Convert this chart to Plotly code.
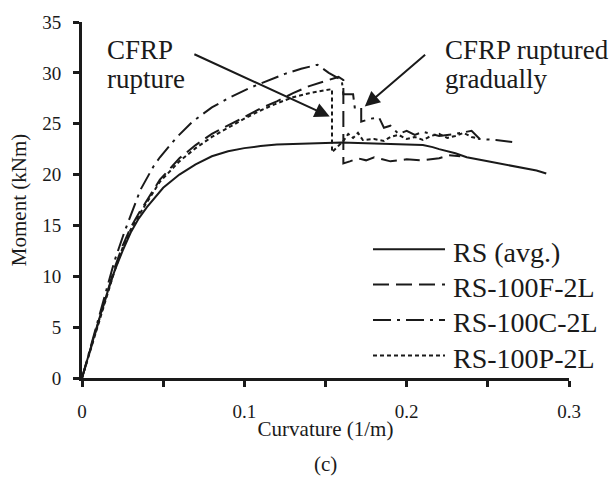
import plotly.graph_objects as go

# Moment-curvature response of the RS beams (curvature in 1/m, moment in kNm)
rs_curv = [0, 0.005, 0.01, 0.015, 0.02, 0.025, 0.03, 0.035, 0.04, 0.05, 0.06, 0.07,
           0.08, 0.09, 0.1, 0.11, 0.12, 0.13, 0.14, 0.15, 0.16, 0.17, 0.18, 0.19,
           0.2, 0.21, 0.216, 0.22, 0.23, 0.237, 0.25, 0.257, 0.27, 0.28, 0.286]
rs_moment = [0, 2.8, 5.5, 8.1, 10.5, 12.5, 14.3, 15.7, 16.8, 18.7, 20.0, 21.0,
             21.8, 22.3, 22.6, 22.8, 22.95, 23.0, 23.05, 23.1, 23.15, 23.1, 23.05, 23.0,
             23.0, 22.9, 22.7, 22.5, 22.1, 21.7, 21.3, 21.1, 20.7, 20.4, 20.1]

f_curv = [0, 0.01, 0.02, 0.025, 0.03, 0.035, 0.04, 0.048, 0.06, 0.07, 0.08, 0.093,
          0.1, 0.11, 0.12, 0.13, 0.14, 0.15, 0.158, 0.161, 0.161, 0.165, 0.17, 0.175,
          0.18, 0.185, 0.19, 0.2, 0.21, 0.22, 0.226, 0.233]
f_moment = [0, 5.5, 10.8, 13.0, 14.8, 16.2, 17.5, 19.5, 21.6, 22.9, 24.0, 25.1,
            25.7, 26.5, 27.2, 28.0, 28.7, 29.2, 29.6, 29.3, 21.1, 21.3, 21.6, 21.4,
            21.7, 21.5, 21.3, 21.5, 21.4, 21.6, 21.9, 21.8]

c_curv = [0, 0.01, 0.02, 0.026, 0.03, 0.036, 0.044, 0.048, 0.058, 0.068, 0.08, 0.09,
          0.103, 0.115, 0.125, 0.135, 0.145, 0.152, 0.16, 0.161, 0.167, 0.168, 0.172,
          0.172, 0.178, 0.183, 0.186, 0.19, 0.195, 0.2, 0.205, 0.21, 0.22, 0.23,
          0.24, 0.245, 0.255, 0.265]
c_moment = [0, 5.8, 11.5, 14.3, 16.0, 18.5, 20.8, 21.7, 23.6, 25.2, 26.6, 27.5,
            28.5, 29.3, 29.9, 30.4, 30.8, 30.0, 29.3, 27.9, 27.9, 26.6, 26.6,
            25.2, 25.5, 25.6, 24.6, 24.8, 24.0, 24.3, 23.9, 24.2, 23.8, 24.0,
            24.3, 23.5, 23.4, 23.2]

p_curv = [0, 0.01, 0.02, 0.025, 0.03, 0.035, 0.04, 0.048, 0.06, 0.07, 0.08, 0.093,
          0.1, 0.11, 0.12, 0.13, 0.14, 0.15, 0.154, 0.154, 0.161, 0.164, 0.167, 0.17,
          0.173, 0.18, 0.186, 0.19, 0.195, 0.2, 0.205, 0.21, 0.215, 0.22, 0.225,
          0.23, 0.235, 0.24, 0.245]
p_moment = [0, 5.3, 10.5, 12.8, 14.6, 16.0, 17.3, 19.3, 21.3, 22.6, 23.7, 24.9,
            25.5, 26.3, 27.0, 27.6, 28.0, 28.3, 28.4, 22.2, 23.3, 24.0, 23.6, 24.1,
            23.4, 23.5, 23.3, 23.7, 23.9, 23.5, 23.7, 23.4, 23.8, 24.0, 23.6,
            23.8, 24.1, 23.7, 23.5]

series_names = ["RS (avg.)", "RS-100F-2L", "RS-100C-2L", "RS-100P-2L"]
series_dash = ["solid", "16px,7px", "18px,6px,3px,6px", "4px,3px"]

x_tickvals = [0, 0.05, 0.1, 0.15, 0.2, 0.25, 0.3]
x_ticktext = ["0", "", "0.1", "", "0.2", "", "0.3"]
y_tickvals = [0, 5, 10, 15, 20, 25, 30, 35]

FONT = "Liberation Serif"
INK = "#1a1a1a"

# plot-area geometry in pixels
W, H = 613, 478
L, R, T, B = 82, 569, 16, 378


def px(xp):
    return (xp - L) / (R - L)


def py(yp):
    return (B - yp) / (B - T)


fig = go.Figure()
for cx, my, name, dash in zip([rs_curv, f_curv, c_curv, p_curv],
                              [rs_moment, f_moment, c_moment, p_moment],
                              series_names, series_dash):
    fig.add_trace(go.Scatter(x=cx, y=my, mode="lines", name=name,
                             line=dict(color=INK, width=2, dash=dash),
                             showlegend=False))

shapes = []
annotations = []

# legend drawn as line samples with labels
leg_rows = [247, 283, 319, 355]
for name, dash, yrow in zip(series_names, series_dash, leg_rows):
    shapes.append(dict(type="line", xref="paper", yref="paper",
                       x0=px(373), x1=px(445), y0=py(yrow), y1=py(yrow),
                       line=dict(color=INK, width=2, dash=dash)))
    annotations.append(dict(text=name, xref="paper", yref="paper",
                            x=px(451), y=py(yrow + 3), xanchor="left", yanchor="middle",
                            showarrow=False, font=dict(family=FONT, size=28, color=INK)))

# rupture callouts
for txt, xp, yp in [("CFRP", 105, 44), ("rupture", 105, 74),
                    ("CFRP ruptured", 443, 44), ("gradually", 443, 74)]:
    annotations.append(dict(text=txt, xref="paper", yref="paper",
                            x=px(xp), y=py(yp), xanchor="left", yanchor="middle",
                            showarrow=False, font=dict(family=FONT, size=27, color=INK)))

for tip, tail in [((0.1526, 25.7), (0.0683, 31.9)), ((0.1742, 26.7), (0.2123, 31.9))]:
    annotations.append(dict(text="", x=tip[0], y=tip[1], xref="x", yref="y",
                            ax=tail[0], ay=tail[1], axref="x", ayref="y",
                            showarrow=True, arrowhead=2, arrowsize=1.5, arrowwidth=2,
                            arrowcolor=INK, standoff=0))

annotations.append(dict(text="(c)", xref="paper", yref="paper", x=px(325), y=py(465),
                        xanchor="center", yanchor="middle", showarrow=False,
                        font=dict(family=FONT, size=21, color=INK)))

fig.update_layout(
    width=W, height=H,
    margin=dict(l=L, r=W - R, t=T, b=H - B, pad=0),
    paper_bgcolor="white", plot_bgcolor="white",
    font=dict(family=FONT, size=19, color=INK),
    shapes=shapes, annotations=annotations,
    showlegend=False,
)
fig.update_xaxes(range=[0, 0.3], tickvals=x_tickvals, ticktext=x_ticktext,
                 showgrid=False, zeroline=False, showline=True, linecolor=INK,
                 linewidth=3, ticks="outside", ticklen=6, tickwidth=3, tickcolor=INK,
                 ticklabelstandoff=8,
                 title=dict(text="Curvature (1/m)", font=dict(family=FONT, size=21),
                            standoff=1))
fig.update_yaxes(range=[0, 35], tickvals=y_tickvals,
                 showgrid=False, zeroline=False, showline=True, linecolor=INK,
                 linewidth=3, ticks="outside", ticklen=6, tickwidth=3, tickcolor=INK,
                 ticklabelstandoff=8,
                 title=dict(text="Moment (kNm)", font=dict(family=FONT, size=21),
                            standoff=10))

fig.write_html("out.html")
